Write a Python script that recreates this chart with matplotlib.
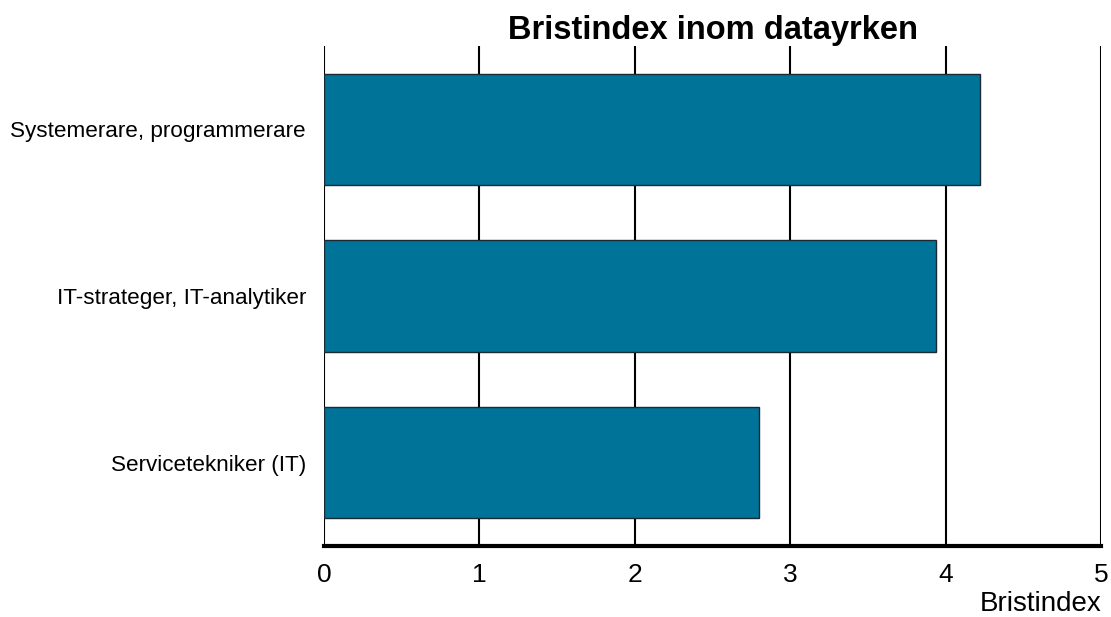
import matplotlib
matplotlib.use("Agg")
import matplotlib.pyplot as plt

# Bristindex per yrke (läst från diagrammet)
categories = ["Systemerare, programmerare", "IT-strateger, IT-analytiker", "Servicetekniker (IT)"]
values = [4.22, 3.94, 2.80]
x_ticks = [0, 1, 2, 3, 4, 5]

plt.rcParams["font.family"] = ["Liberation Sans", "DejaVu Sans"]

fig = plt.figure(figsize=(11.11, 6.17), dpi=100)
ax = fig.add_axes([324 / 1111, 1 - 546 / 617, (1101 - 324) / 1111, (546 - 46) / 617])

# top category first
ypos = list(range(len(categories)))[::-1]
ax.barh(ypos, values, height=0.667, color="#007398", edgecolor="#1a2a33",
        linewidth=1, zorder=3)

ax.set_xlim(0, 5)
ax.set_ylim(-0.5, 2.5)
ax.set_xticks(x_ticks)
ax.set_xticklabels([str(t) for t in x_ticks], fontsize=19)
ax.set_yticks(ypos)
ax.set_yticklabels(categories, fontsize=16.2)
ax.tick_params(axis="both", length=0)
ax.tick_params(axis="x", pad=12)
ax.tick_params(axis="y", pad=13)

# vertical gridlines
for t in x_ticks:
    ax.axvline(t, color="black", linewidth=1.5 if t < 5 else 2.2, zorder=1)

for s in ["top", "right", "left"]:
    ax.spines[s].set_visible(False)
ax.spines["bottom"].set_linewidth(3)
ax.spines["bottom"].set_zorder(4)

ax.set_title("Bristindex inom datayrken", fontsize=23.5, fontweight="bold", pad=1)
ax.set_xlabel("Bristindex", fontsize=20, loc="right", labelpad=3)

fig.savefig("out.png", dpi=100)
